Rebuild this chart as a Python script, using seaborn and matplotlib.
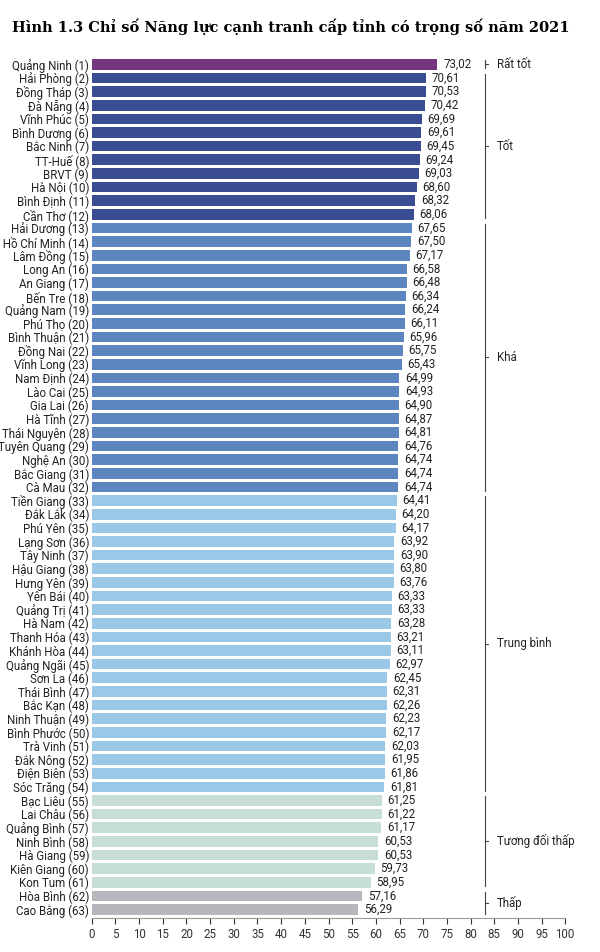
import matplotlib
matplotlib.use("Agg")
import matplotlib.pyplot as plt
import seaborn as sns
import pandas as pd

provinces = ["Quảng Ninh","Hải Phòng","Đồng Tháp","Đà Nẵng","Vĩnh Phúc","Bình Dương","Bắc Ninh","TT-Huế","BRVT","Hà Nội","Bình Định","Cần Thơ",
 "Hải Dương","TP. Hồ Chí Minh","Lâm Đồng","Long An","An Giang","Bến Tre","Quảng Nam","Phú Thọ","Bình Thuận","Đồng Nai","Vĩnh Long","Nam Định","Lào Cai","Gia Lai","Hà Tĩnh","Thái Nguyên","Tuyên Quang","Nghệ An","Bắc Giang","Cà Mau",
 "Tiền Giang","Đắk Lắk","Phú Yên","Lạng Sơn","Tây Ninh","Hậu Giang","Hưng Yên","Yên Bái","Quảng Trị","Hà Nam","Thanh Hóa","Khánh Hòa","Quảng Ngãi","Sơn La","Thái Bình","Bắc Kạn","Ninh Thuận","Bình Phước","Trà Vinh","Đắk Nông","Điện Biên","Sóc Trăng",
 "Bạc Liêu","Lai Châu","Quảng Bình","Ninh Bình","Hà Giang","Kiên Giang","Kon Tum","Hòa Bình","Cao Bằng"]
scores = [73.02,70.61,70.53,70.42,69.69,69.61,69.45,69.24,69.03,68.60,68.32,68.06,
 67.65,67.50,67.17,66.58,66.48,66.34,66.24,66.11,65.96,65.75,65.43,64.99,64.93,64.90,64.87,64.81,64.76,64.74,64.74,64.74,
 64.41,64.20,64.17,63.92,63.90,63.80,63.76,63.33,63.33,63.28,63.21,63.11,62.97,62.45,62.31,62.26,62.23,62.17,62.03,61.95,61.86,61.81,
 61.25,61.22,61.17,60.53,60.53,59.73,58.95,57.16,56.29]
groups = ["Rất tốt"] + ["Tốt"]*11 + ["Khá"]*20 + ["Trung bình"]*22 + ["Tương đối thấp"]*7 + ["Thấp"]*2
group_order = ["Rất tốt","Tốt","Khá","Trung bình","Tương đối thấp","Thấp"]
group_colors = ["#7E2A8C","#2C44A0","#4C83D0","#8FCBF2","#C3E2D6","#B5B6BE"]

labels = [f"{p} ({i+1})" for i, p in enumerate(provinces)]
df = pd.DataFrame({"label": labels, "score": scores, "group": groups})

plt.rcParams["font.family"] = ["Roboto", "DejaVu Sans"]
fs = 8.3
fig = plt.figure(figsize=(6, 9.52), dpi=100)
ax = fig.add_axes([0.153, 0.036, 0.789, 0.905])
sns.barplot(data=df, y="label", x="score", hue="group", hue_order=group_order,
            palette=group_colors, dodge=False, width=0.78, legend=False, ax=ax)
ax.set_xlim(0, 100)
ax.set_ylim(62.6, -0.6)
ax.set_xticks(range(0, 101, 5))
ax.tick_params(axis="x", labelsize=fs, colors="#333333", length=4)
ax.tick_params(axis="y", labelsize=fs, length=0, pad=2, colors="#222222")
ax.set_xlabel(""); ax.set_ylabel("")
for s in ["top", "right", "left"]:
    ax.spines[s].set_visible(False)
ax.spines["bottom"].set_color("#999999")

for i, v in enumerate(scores):
    ax.text(v + 1.2, i, f"{v:.2f}".replace(".", ","), va="center", ha="left", fontsize=fs, color="#222222")

start = 0
for g in group_order:
    n = groups.count(g)
    a, b = start - 0.3, start + n - 1 + 0.3
    bx = 83
    ax.plot([bx, bx], [a, b], color="#444444", lw=0.8, clip_on=False)
    m = (a + b) / 2
    ax.plot([bx, bx + 0.6], [m, m], color="#444444", lw=0.8, clip_on=False)
    ax.text(85.5, m, g, va="center", ha="left", fontsize=fs, color="#222222")
    start += n

fig.text(0.02, 0.972, "Hình 1.3 Chỉ số Năng lực cạnh tranh cấp tỉnh có trọng số năm 2021",
         fontsize=10.5, fontweight="bold", family="DejaVu Serif", va="center", ha="left")
fig.savefig("out.png", dpi=100, facecolor="white")
